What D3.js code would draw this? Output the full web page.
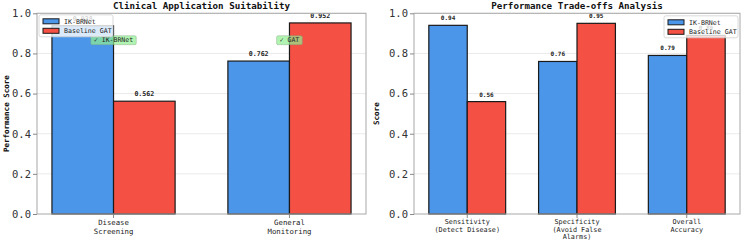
<!DOCTYPE html>
<html>
<head>
<meta charset="utf-8">
<script src="https://cdn.jsdelivr.net/npm/d3@7/dist/d3.min.js"></script>
<style>
  body { margin: 0; background: #fff; }
  text { font-family: "DejaVu Sans Mono", monospace; }
</style>
</head>
<body>
<div id="chart"></div>
<script>
var seriesNames = ["IK-BRNet", "Baseline GAT"];
var seriesColors = ["#4C96EA", "#F55044"];

// left panel
var appCategories = [["Disease", "Screening"], ["General", "Monitoring"]];
var appIK = [0.938, 0.762];
var appGAT = [0.562, 0.952];
var appWinners = ["\u2713 IK-BRNet", "\u2713 GAT"];

// right panel
var tradeCategories = [["Sensitivity", "(Detect Disease)"], ["Specificity", "(Avoid False", "Alarms)"], ["Overall", "Accuracy"]];
var tradeIK = [0.94, 0.76, 0.79];
var tradeGAT = [0.56, 0.95, 0.89];

var yTicks = [0, 0.2, 0.4, 0.6, 0.8, 1.0];

var width = 745, height = 242;
var svg = d3.select("#chart").append("svg")
  .attr("width", width)
  .attr("height", height);

var drawPanel = (opts) => {
  var n = opts.categories.length;
  var barW = 0.35;
  var pad = (n - 1 + 2 * barW) * 0.05;

  var xScale = d3.scaleLinear()
    .domain([-barW - pad, n - 1 + barW + pad])
    .range([opts.left, opts.right]);
  var yScale = d3.scaleLinear()
    .domain([0, 1])
    .range([opts.bottom, opts.top]);

  var g = svg.append("g");

  // grid
  g.append("g").selectAll("line")
    .data(yTicks.slice(1))
    .enter().append("line")
    .attr("x1", opts.left).attr("x2", opts.right)
    .attr("y1", d => yScale(d)).attr("y2", d => yScale(d))
    .attr("stroke", "#e4e4e4")
    .attr("stroke-width", 0.8);

  // bars
  var series = [opts.ik, opts.gat];
  series.forEach((vals, s) => {
    g.append("g").selectAll("rect")
      .data(vals)
      .enter().append("rect")
      .attr("x", (d, i) => xScale(i + (s === 0 ? -barW : 0)))
      .attr("y", d => yScale(d))
      .attr("width", xScale(barW) - xScale(0))
      .attr("height", d => opts.bottom - yScale(d))
      .attr("fill", seriesColors[s])
      .attr("stroke", "#1a1a1a")
      .attr("stroke-width", 1.2);

    g.append("g").selectAll("text")
      .data(vals)
      .enter().append("text")
      .attr("x", (d, i) => xScale(i + (s === 0 ? -barW / 2 : barW / 2)))
      .attr("y", d => yScale(d) - 5)
      .attr("text-anchor", "middle")
      .attr("font-size", opts.valueSize)
      .attr("font-weight", "bold")
      .attr("fill", "#222")
      .text(d => d3.format(opts.valueFormat)(d));
  });

  // frame
  g.append("rect")
    .attr("x", opts.left).attr("y", opts.top)
    .attr("width", opts.right - opts.left)
    .attr("height", opts.bottom - opts.top)
    .attr("fill", "none")
    .attr("stroke", "#a8a8a8")
    .attr("stroke-width", 1);

  // y axis
  var yAxis = d3.axisLeft(yScale)
    .tickValues(yTicks)
    .tickFormat(d3.format(".1f"))
    .tickSize(4)
    .tickPadding(2);
  var ya = g.append("g")
    .attr("transform", `translate(${opts.left}, 0)`)
    .call(yAxis);
  ya.select(".domain").remove();
  ya.selectAll(".tick line").attr("stroke", "#888");
  ya.selectAll(".tick text")
    .attr("font-size", "10.5px")
    .attr("fill", "#333")
    .attr("font-family", "DejaVu Sans Mono, monospace");

  // x ticks
  var xt = g.append("g").selectAll("g")
    .data(opts.categories)
    .enter().append("g")
    .attr("transform", (d, i) => `translate(${xScale(i)}, ${opts.bottom})`);
  xt.append("line")
    .attr("y1", 0).attr("y2", 4)
    .attr("stroke", "#888");
  xt.append("text")
    .attr("text-anchor", "middle")
    .attr("font-size", opts.xTickSize)
    .attr("fill", "#222")
    .selectAll("tspan")
    .data(d => d)
    .enter().append("tspan")
    .attr("x", 0)
    .attr("y", (d, i) => opts.xTickY + i * opts.xTickStep)
    .text(d => d);

  // title
  g.append("text")
    .attr("x", (opts.left + opts.right) / 2)
    .attr("y", 8.5)
    .attr("text-anchor", "middle")
    .attr("font-size", "9.2px")
    .attr("font-weight", "bold")
    .attr("fill", "#111")
    .text(opts.title);

  // y label
  g.append("text")
    .attr("transform", `translate(${opts.yLabelX}, ${(opts.top + opts.bottom) / 2}) rotate(-90)`)
    .attr("text-anchor", "middle")
    .attr("dy", "0.35em")
    .attr("font-size", "7.5px")
    .attr("font-weight", "bold")
    .attr("fill", "#111")
    .text(opts.yLabel);

  // winner annotations
  if (opts.winners) {
    opts.winners.forEach((w, i) => {
      var cx = xScale(i), cy = yScale(0.866);
      var tw = w.length * 3.95 + 6;
      g.append("rect")
        .attr("x", cx - tw / 2).attr("y", cy - 4.5)
        .attr("width", tw).attr("height", 9)
        .attr("rx", 1.5)
        .attr("fill", "#90EE90")
        .attr("fill-opacity", 0.7)
        .attr("stroke", "#7a9a7a")
        .attr("stroke-opacity", 0.6)
        .attr("stroke-width", 0.6);
      g.append("text")
        .attr("x", cx).attr("y", cy)
        .attr("dy", "0.35em")
        .attr("text-anchor", "middle")
        .attr("font-size", "6.5px")
        .attr("fill", "#222")
        .text(w);
    });
  }

  // legend
  var lw = 74, lh = 22;
  var lx = opts.legendRight ? opts.right - 2 - lw : opts.left + 2;
  var ly = opts.legendRight ? opts.top + 2.5 : opts.top + 1.5;
  var lg = g.append("g").attr("transform", `translate(${lx}, ${ly})`);
  lg.append("rect")
    .attr("width", lw).attr("height", lh)
    .attr("rx", 2)
    .attr("fill", "#fff")
    .attr("fill-opacity", 0.8)
    .attr("stroke", "#d0d0d0")
    .attr("stroke-width", 0.8);
  var items = lg.selectAll("g.item")
    .data(seriesNames)
    .enter().append("g")
    .attr("class", "item")
    .attr("transform", (d, i) => `translate(4, ${6.5 + i * 9.5})`);
  items.append("rect")
    .attr("x", 0).attr("y", -2.5)
    .attr("width", 16).attr("height", 5)
    .attr("fill", (d, i) => seriesColors[i])
    .attr("stroke", "#1a1a1a")
    .attr("stroke-width", 1);
  items.append("text")
    .attr("x", 21).attr("dy", "0.35em")
    .attr("font-size", "6.6px")
    .attr("fill", "#222")
    .text(d => d);
};

drawPanel({
  left: 37, right: 366, top: 13.3, bottom: 214,
  categories: appCategories, ik: appIK, gat: appGAT,
  valueFormat: ".3f", valueSize: "6.6px",
  xTickSize: "7.3px", xTickY: 11.2, xTickStep: 8.3,
  title: "Clinical Application Suitability",
  yLabel: "Performance Score", yLabelX: 6,
  winners: appWinners, legendRight: false
});

drawPanel({
  left: 414, right: 740, top: 13.3, bottom: 214,
  categories: tradeCategories, ik: tradeIK, gat: tradeGAT,
  valueFormat: ".2f", valueSize: "6px",
  xTickSize: "6.8px", xTickY: 10.4, xTickStep: 7.3,
  title: "Performance Trade-offs Analysis",
  yLabel: "Score", yLabelX: 376,
  winners: null, legendRight: true
});
</script>
</body>
</html>
